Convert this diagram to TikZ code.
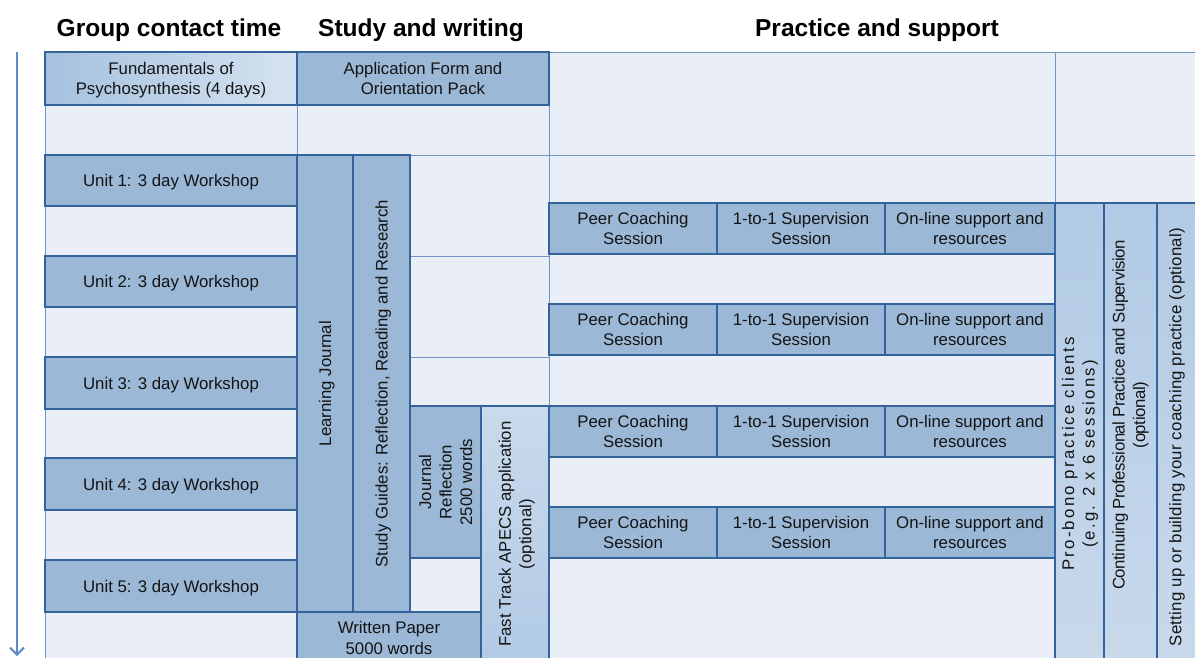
\documentclass[tikz,border=0pt]{standalone}
\usepackage{fontspec}
\setmainfont{Liberation Sans}
\usetikzlibrary{arrows.meta}
\definecolor{boxfill}{RGB}{155,184,214}
\definecolor{boxline}{RGB}{52,98,154}
\definecolor{bgfill}{RGB}{234,239,247}
\definecolor{gridline}{RGB}{112,150,198}
\definecolor{arrowc}{RGB}{96,138,192}
\definecolor{txt}{RGB}{20,20,20}
\definecolor{lightA}{RGB}{214,227,241}
\definecolor{lightB}{RGB}{165,193,222}
\definecolor{lightC}{RGB}{202,218,236}
\definecolor{lightD}{RGB}{178,202,229}
\newcommand\bx[7][]{\node[boxst,minimum width={#5-#3},minimum height={#6-#4},#1] (#2) at ({(#3+#5)/2},{(#4+#6)/2}) {#7};}
\newcommand\vbx[7][]{\node[boxst,rotate=90,minimum width={#6-#4},minimum height={#5-#3},#1] (#2) at ({(#3+#5)/2},{(#4+#6)/2}) {#7};}
\begin{document}
\begin{tikzpicture}[x=1pt,y=-1pt,
  boxst/.style={draw=boxline,line width=2.7pt,fill=boxfill,inner sep=1pt,outer sep=0pt,align=center,
    text depth=0pt,font=\fontsize{16.8}{20.5}\selectfont,text=txt},
  gridst/.style={draw=gridline,line width=0.9pt},
  headst/.style={font=\bfseries\fontsize{24.5}{28}\selectfont,anchor=base,text=black},
  vtext/.style={rotate=90,align=center,text=txt,inner sep=0pt},
  arrowst/.style={draw=arrowc,line width=2pt,-{Straight Barb[length=7pt,width=14pt,line width=2pt]}},
  shadeH/.style={left color=lightB,right color=lightA},
  shadeF/.style={top color=lightC,bottom color=lightD},
  shadeV/.style={top color=lightD,bottom color=lightC}]
\useasboundingbox (0,0) rectangle (1195,657);
\clip (0,0) rectangle (1195,657);
% background grid
\fill[bgfill] (45,52) rectangle (1200,670);
\draw[gridst] (45,52) -- (1200,52);
\draw[gridst] (45,105) -- (549,105);
\draw[gridst] (45,155) -- (1200,155);
\draw[gridst] (549,203) -- (1200,203);
\foreach \yy in {206,256,307,357,409,458,510,560,612} {\draw[gridst] (45,\yy) -- (297,\yy);}
\draw[gridst] (410,256) -- (549,256);
\draw[gridst] (410,357) -- (549,357);
\draw[gridst] (410,406) -- (549,406);
\draw[gridst] (410,558) -- (481,558);
\draw[gridst] (45,52) -- (45,670);
\draw[gridst] (297,52) -- (297,670);
\draw[gridst] (549,52) -- (549,670);
\draw[gridst] (1055,52) -- (1055,203);
% headers
\node[headst] (h1) at (169,36) {Group contact time};
\node[headst] (h2) at (421,36) {Study and writing};
\node[headst] (h3) at (877,36) {Practice and support};
% time arrow
\coordinate (arrTop) at (17,52);
\coordinate (arrBot) at (17,656);
\draw[arrowst] (arrTop) -- (arrBot);
% group contact time
\bx[shadeH]{fund}{45}{52}{297}{105}{Fundamentals of\\Psychosynthesis (4 days)}
\bx{u1}{45}{155}{297}{206}{Unit 1: 3 day Workshop}
\bx{u2}{45}{256}{297}{307}{Unit 2: 3 day Workshop}
\bx{u3}{45}{357}{297}{409}{Unit 3: 3 day Workshop}
\bx{u4}{45}{458}{297}{510}{Unit 4: 3 day Workshop}
\bx{u5}{45}{560}{297}{612}{Unit 5: 3 day Workshop}
% study and writing
\bx{app}{297}{52}{549}{105}{Application Form and\\Orientation Pack}
\vbx{lj}{297}{155}{353}{612}{Learning Journal}
\vbx{sg}{353}{155}{410}{612}{Study Guides: Reflection, Reading and Research}
\vbx{jr}{410}{406}{481}{558}{Journal\\Reflection\\2500 words}
\vbx[shadeF]{ft}{481}{406}{549}{662}{Fast Track APECS application\\(optional)}
\bx{wp}{297}{612}{481}{664}{Written Paper\\5000 words}
% practice and support
\foreach \i/\ya/\yb in {1/203/254,2/304/355,3/406/457,4/507/558} {
  \bx{peer\i}{549}{\ya}{717}{\yb}{Peer Coaching\\Session}
  \bx{sup\i}{717}{\ya}{885}{\yb}{1-to-1 Supervision\\Session}
  \bx{onl\i}{885}{\ya}{1055}{\yb}{On-line support and\\resources}
}
\bx[shadeV]{pb}{1055}{203}{1104}{700}{}
\bx[shadeV]{cp}{1104}{203}{1157}{700}{}
\bx[shadeV]{su}{1157}{203}{1205}{700}{}
\node[vtext,font=\fontsize{16.8}{20.5}\selectfont\addfontfeature{LetterSpace=13}] (pbT) at (1080,454) {Pro-bono practice clients\\(e.g. 2 x 6 sessions)};
\node[vtext,font=\fontsize{16.8}{20.5}\selectfont\addfontfeature{LetterSpace=-2.5}] (cpT) at (1130.5,415) {Continuing Professional Practice and Supervision\\(optional)};
\node[vtext,font=\fontsize{16.8}{20.5}\selectfont\addfontfeature{LetterSpace=1.6}] (suT) at (1177,437) {Setting up or building your coaching practice (optional)};
\end{tikzpicture}
\end{document}
